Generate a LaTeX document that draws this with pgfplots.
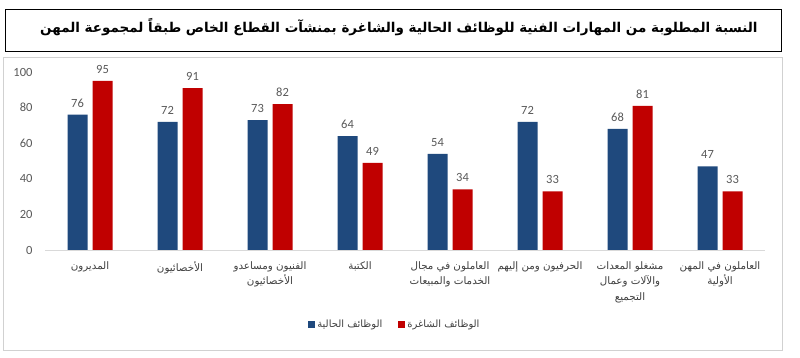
\documentclass[border=0pt]{standalone}
\usepackage{fontspec}
\usepackage{pgfplots}
\pgfplotsset{compat=1.18}
\TeXXeTstate=1
\newfontfamily\arabicfont[Script=Arabic]{DejaVu Sans}
\newfontfamily\carlito{Carlito}
\definecolor{cblue}{HTML}{1F497D}
\definecolor{cred}{HTML}{C00000}
\definecolor{tgray}{HTML}{595959}
\definecolor{lgray}{HTML}{404040}
\begin{document}
\begin{tikzpicture}[x=1pt,y=1pt]
\fill[white] (0,0) rectangle (800,358);
\draw[black!18] (3,8) rectangle (782,301);
\draw[black, line width=1pt] (5,306) rectangle (781,348);
\node[font=\arabicfont\bfseries\fontsize{13.5}{16}\selectfont] at (399,331) {\beginR النسبة المطلوبة من المهارات الفنية للوظائف الحالية والشاغرة بمنشآت القطاع الخاص طبقاً لمجموعة المهن\endR};
\begin{axis}[
  at={(45pt,108pt)}, anchor=south west,
  scale only axis, width=720pt, height=178pt,
  xmin=-0.5, xmax=7.5, ymin=0, ymax=100,
  ybar=5pt, bar width=20pt,
  clip=false,
  axis x line*=bottom, axis y line*=left,
  x axis line style={-, draw=black!15},
  y axis line style={draw=none},
  major tick length=0pt,
  xtick={0,...,7},
  ytick={0,20,...,100},
  xticklabels={
    {\arabicfont\beginR المديرون\endR},
    {\arabicfont\beginR الأخصائيون\endR},
    {\arabicfont\beginR الفنيون ومساعدو\endR\\\arabicfont\beginR الأخصائيون\endR},
    {\arabicfont\beginR الكتبة\endR},
    {\arabicfont\beginR العاملون في مجال\endR\\\arabicfont\beginR الخدمات والمبيعات\endR},
    {\arabicfont\beginR الحرفيون ومن إليهم\endR},
    {\arabicfont\beginR مشغلو المعدات\endR\\\arabicfont\beginR والآلات وعمال\endR\\\arabicfont\beginR التجميع\endR},
    {\arabicfont\beginR العاملون في المهن\endR\\\arabicfont\beginR الأولية\endR}
  },
  xticklabel style={align=center, font=\fontsize{10.3}{15.5}\selectfont, text=lgray, yshift=-8pt},
  yticklabel style={font=\carlito\fontsize{12.5}{14}\selectfont, text=tgray, xshift=-9pt},
  /pgf/number format/assume math mode=true,
  nodes near coords,
  every node near coord/.append style={font=\carlito\fontsize{12.5}{14}\selectfont, text=tgray, yshift=4pt},
  legend columns=2,
  legend style={at={(0.486,-0.421)}, anchor=center, draw=none, fill=none,
    font=\arabicfont\fontsize{10}{12}\selectfont, text=lgray,
    /tikz/every even column/.append style={column sep=14pt}},
]
\addplot[fill=cblue, draw=none, legend image code/.code={\fill[cblue] (0pt,-3.5pt) rectangle (7pt,3.5pt);}]
  coordinates {(0,76) (1,72) (2,73) (3,64) (4,54) (5,72) (6,68) (7,47)};
\addlegendentry{\beginR الوظائف الحالية\endR}
\addplot[fill=cred, draw=none, legend image code/.code={\fill[cred] (0pt,-3.5pt) rectangle (7pt,3.5pt);}]
  coordinates {(0,95) (1,91) (2,82) (3,49) (4,34) (5,33) (6,81) (7,33)};
\addlegendentry{\beginR الوظائف الشاغرة\endR}
\end{axis}
\end{tikzpicture}
\end{document}
